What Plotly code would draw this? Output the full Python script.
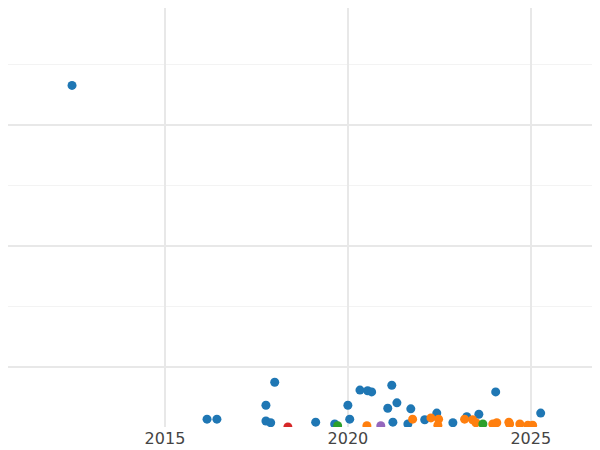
import plotly.graph_objects as go

blue_x = [2012.46, 2016.15, 2016.42, 2017.76, 2017.76, 2017.89, 2018.0, 2019.12, 2019.64, 2020.0, 2020.05,
          2020.33, 2020.54, 2020.65, 2021.09, 2021.2, 2021.23, 2021.34, 2021.64, 2021.72, 2022.1, 2022.43,
          2022.87, 2023.25, 2023.58, 2024.04, 2025.27]
blue_y = [5.65, 0.13, 0.13, 0.36, 0.10, 0.07, 0.74, 0.08, 0.05, 0.36, 0.13,
          0.61, 0.60, 0.58, 0.31, 0.69, 0.08, 0.40, 0.05, 0.30, 0.12, 0.23,
          0.07, 0.17, 0.21, 0.58, 0.23]
orange_x = [2020.52, 2021.77, 2022.27, 2022.48, 2022.46, 2023.19, 2023.41, 2023.5, 2023.96, 2024.07,
            2024.4, 2024.42, 2024.7, 2024.92, 2025.05]
orange_y = [0.02, 0.13, 0.15, 0.13, 0.03, 0.13, 0.12, 0.07, 0.05, 0.07, 0.08, 0.05, 0.05, 0.03, 0.03]
green_x = [2019.72, 2023.69]
green_y = [0.02, 0.05]
red_x = [2018.36]
red_y = [0.0]
purple_x = [2020.9]
purple_y = [0.02]

series = [(blue_x, blue_y, "#1f77b4"), (orange_x, orange_y, "#ff7f0e"),
          (green_x, green_y, "#2ca02c"), (red_x, red_y, "#d62728"),
          (purple_x, purple_y, "#9467bd")]

fig = go.Figure()
for xs, ys, c in series:
    fig.add_trace(go.Scatter(x=xs, y=ys, mode="markers",
                             marker=dict(color=c, size=9), showlegend=False))

fig.update_layout(
    width=600, height=450, margin=dict(l=0, r=0, t=0, b=31),
    plot_bgcolor="white", paper_bgcolor="white",
    font=dict(family="DejaVu Sans", size=16, color="#444"),
    xaxis=dict(range=[2010.71, 2027.11], tickvals=[2015, 2020, 2025], showgrid=True,
               gridcolor="#e8e8e8", gridwidth=2, zeroline=False, showline=False, ticks=""),
    yaxis=dict(range=[0, 6.93], tick0=1, dtick=2, showticklabels=False, showgrid=True,
               gridcolor="#e8e8e8", gridwidth=2, zeroline=False,
               minor=dict(dtick=1, tick0=0, showgrid=True, gridcolor="#f3f3f3", gridwidth=1)),
)
fig.write_html("out.html")
